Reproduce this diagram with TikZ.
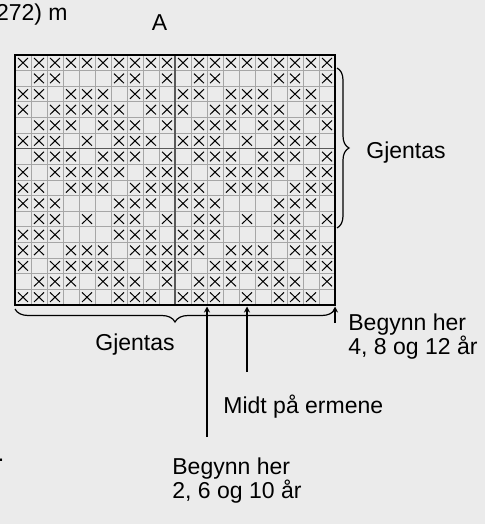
\documentclass[tikz,border=0pt]{standalone}
\usepackage{fontspec}
\setmainfont{Liberation Sans}
\usetikzlibrary{arrows.meta, decorations.pathreplacing}
\definecolor{paper}{RGB}{235,235,235}
\colorlet{gridgray}{black!35}
\colorlet{tengray}{black!65}

\begin{document}
\begin{tikzpicture}[x=0.5pt, y=-0.5pt, >={Stealth[length=3pt, width=3pt]},
    lbl/.style={inner sep=0pt, font=\fontsize{11.5}{12}\selectfont, align=left},
    gridline/.style={draw=gridgray, line width=0.5pt},
    tenline/.style={draw=tengray, line width=0.7pt},
    stitch/.style={line width=0.5pt},
    pointer/.style={->, line width=0.6pt}]
    \useasboundingbox[fill=paper] (0,0) rectangle (485,524);

    % chart, 20 x 16
    \foreach \i in {1,...,19} { \draw[gridline] (15+\i*16,55) -- (15+\i*16,305); }
    \foreach \j in {1,...,15} { \draw[gridline] (15,55+\j*15.625) -- (335,55+\j*15.625); }
    \draw[tenline] (175,55) -- (175,305);
    \draw[tenline] (15,148.75) -- (335,148.75);

    \foreach \r/\cols in {1/{1,2,3,4,5,6,7,8,9,10}, 2/{2,3,7,8,10}, 3/{1,2,4,5,6,8,9},
        4/{1,3,4,5,6,7,9,10}, 5/{2,3,4,6,7,8,10}, 6/{1,2,3,5,7,8,9}, 7/{2,3,4,6,7,8,10},
        8/{1,3,4,5,6,7,9,10}, 9/{1,2,4,5,6,8,9,10}, 10/{1,2,3,7,8,9}, 11/{2,3,5,7,8,10},
        12/{1,2,3,7,8,9}, 13/{1,2,4,5,6,8,9,10}, 14/{1,3,4,5,6,7,9,10},
        15/{2,3,4,6,7,8,10}, 16/{1,2,3,5,7,8,9}} {
      \foreach \c in \cols {
        \foreach \o in {0,160} {
          \pgfmathsetmacro{\xa}{15+\o+(\c-1)*16}
          \pgfmathsetmacro{\ya}{55+(\r-1)*15.625}
          \draw[stitch] (\xa+3,\ya+3) -- (\xa+13,\ya+12.6) (\xa+13,\ya+3) -- (\xa+3,\ya+12.6);
        }
      }
    }
    \draw[line width=1.35pt] (15,55) rectangle (335,305);

    \draw[decorate, decoration={brace, amplitude=6pt}, line width=0.6pt] (337,68) -- (337,228);
    \draw[decorate, decoration={brace, amplitude=6.5pt}, line width=0.6pt] (335,309) -- (15,309);

    \node[lbl, anchor=base east] (ref) at (68,21) {272) m};
    \node[lbl, anchor=base] (title) at (159.5,31) {A};
    \node[lbl, anchor=base west] (repright) at (366,158) {Gjentas};
    \node[lbl, anchor=base west] (repbottom) at (95,350) {Gjentas};
    \node[lbl, anchor=base west] (startb) at (348,354) {Begynn her\\4, 8 og 12 år};
    \node[lbl, anchor=base west] (middle) at (223,413) {Midt på ermene};
    \node[lbl, anchor=base west] (starta) at (172,498) {Begynn her\\2, 6 og 10 år};
    \node[lbl, anchor=base west] (dot) at (-2.5,461) {.};

    \coordinate (atail) at (207,437);
    \coordinate (ahead) at (207,306.5);
    \coordinate (mtail) at (247,372);
    \coordinate (mhead) at (247,306.5);
    \coordinate (btail) at (335,323);
    \coordinate (bhead) at (335,306.5);
    \draw[pointer] (atail) -- (ahead);
    \draw[pointer] (mtail) -- (mhead);
    \draw[pointer] (btail) -- (bhead);
  \end{tikzpicture}
\end{document}
